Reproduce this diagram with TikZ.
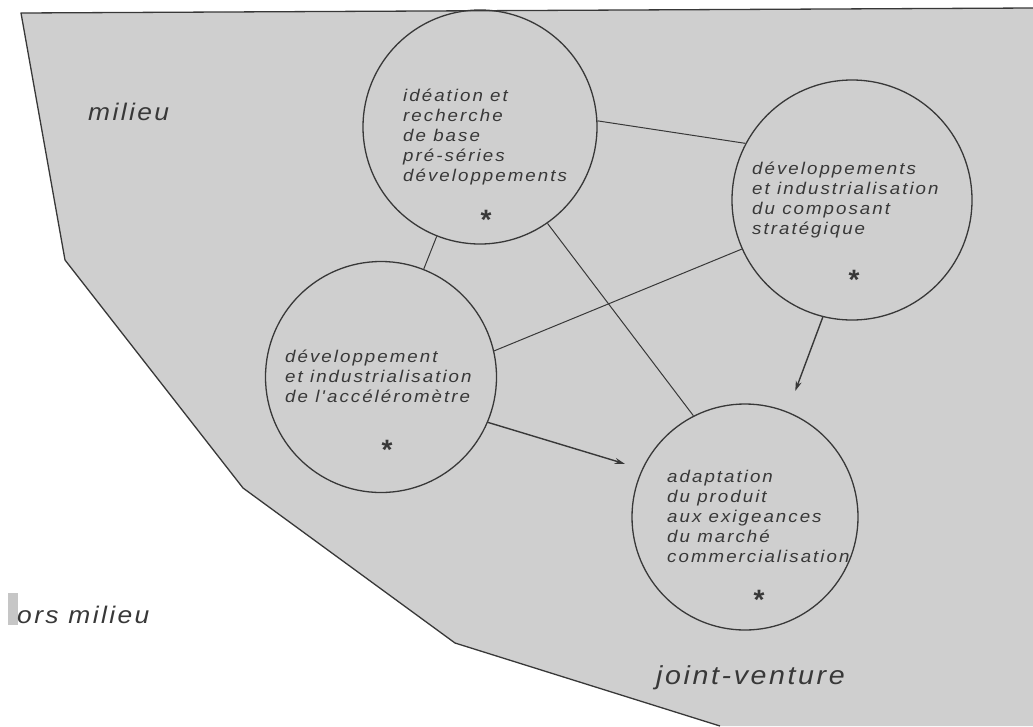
\documentclass[tikz,border=0pt]{standalone}
\usepackage{fontspec}
\setmainfont{Liberation Sans}
\newfontfamily\circfont[FakeStretch=1.1,LetterSpace=12]{Liberation Sans}
\newfontfamily\labfont[FakeStretch=1.1,LetterSpace=10]{Liberation Sans}
\usetikzlibrary{arrows.meta}
\definecolor{ink}{gray}{0.22}
\definecolor{zonefill}{gray}{0.81}
\begin{document}
\begin{tikzpicture}[x=1pt,y=-1pt,
  zone/.style={circle,draw=ink,line width=1.3pt,minimum size=#1,inner sep=0pt},
  ctext/.style={anchor=north west,align=left,inner sep=0pt,text=ink,font=\circfont\itshape\fontsize{17}{20}\selectfont},
  star/.style={anchor=base,inner sep=0pt,text=ink,font=\bfseries\fontsize{28}{28}\selectfont},
  lab/.style={anchor=base west,inner sep=0pt,text=ink},
  link/.style={draw=ink,line width=1pt},
  flow/.style={draw=ink,line width=1.4pt,-{Stealth[length=10pt,width=6pt]}}]
\fill[white] (0,0) rectangle (1033,726);
\useasboundingbox (0,0) rectangle (1033,726);
\fill[zonefill] (21,13) -- (1033,8) -- (1033,726) -- (720,726) -- (455,643) -- (243,488) -- (65,260) -- cycle;
\draw[ink,line width=1.3pt,line join=round] (1033,8) -- (21,13) -- (65,260) -- (243,488) -- (455,643) -- (720,726);
\fill[gray!45] (8,593) rectangle (18,625);

\node[zone=234pt] (c1) at (480,127) {};
\node[zone=240pt] (c2) at (852,200) {};
\node[zone=231pt] (c3) at (381,377) {};
\node[zone=226pt] (c4) at (745,517) {};

\draw[link] (c1.3) -- (c2.152);
\draw[link] (c1) -- (c3);
\draw[link] (c1.305) -- (c4.117);
\draw[link] (c3.13) -- (c2.204);
\draw[flow,shorten >=22pt] (c2.256) -- (c4.68);
\draw[flow,shorten >=18pt] (c3.-23) -- (c4.155);

\node[ctext] (t1) at (403,89) {idéation et\\recherche\\de base\\pré-séries\\développements};
\node[ctext] (t2) at (752,162) {développements\\et industrialisation\\du composant\\stratégique};
\node[ctext] (t3) at (285,350) {développement\\et industrialisation\\de l'accéléromètre};
\node[ctext] (t4) at (667,470) {adaptation\\du produit\\aux exigeances\\du marché\\commercialisation};

\node[star] (s1) at (486,229) {*};
\node[star] (s2) at (854,289) {*};
\node[star] (s3) at (387,459) {*};
\node[star] (s4) at (759,609) {*};

\node[lab,font=\labfont\itshape\fontsize{24}{24}\selectfont] (l1) at (88,120) {milieu};
\node[lab,font=\labfont\itshape\fontsize{24}{24}\selectfont] (l2) at (17,623) {ors milieu};
\node[lab,font=\labfont\itshape\fontsize{26}{26}\selectfont] (l3) at (656,684) {joint-venture};
\end{tikzpicture}
\end{document}
